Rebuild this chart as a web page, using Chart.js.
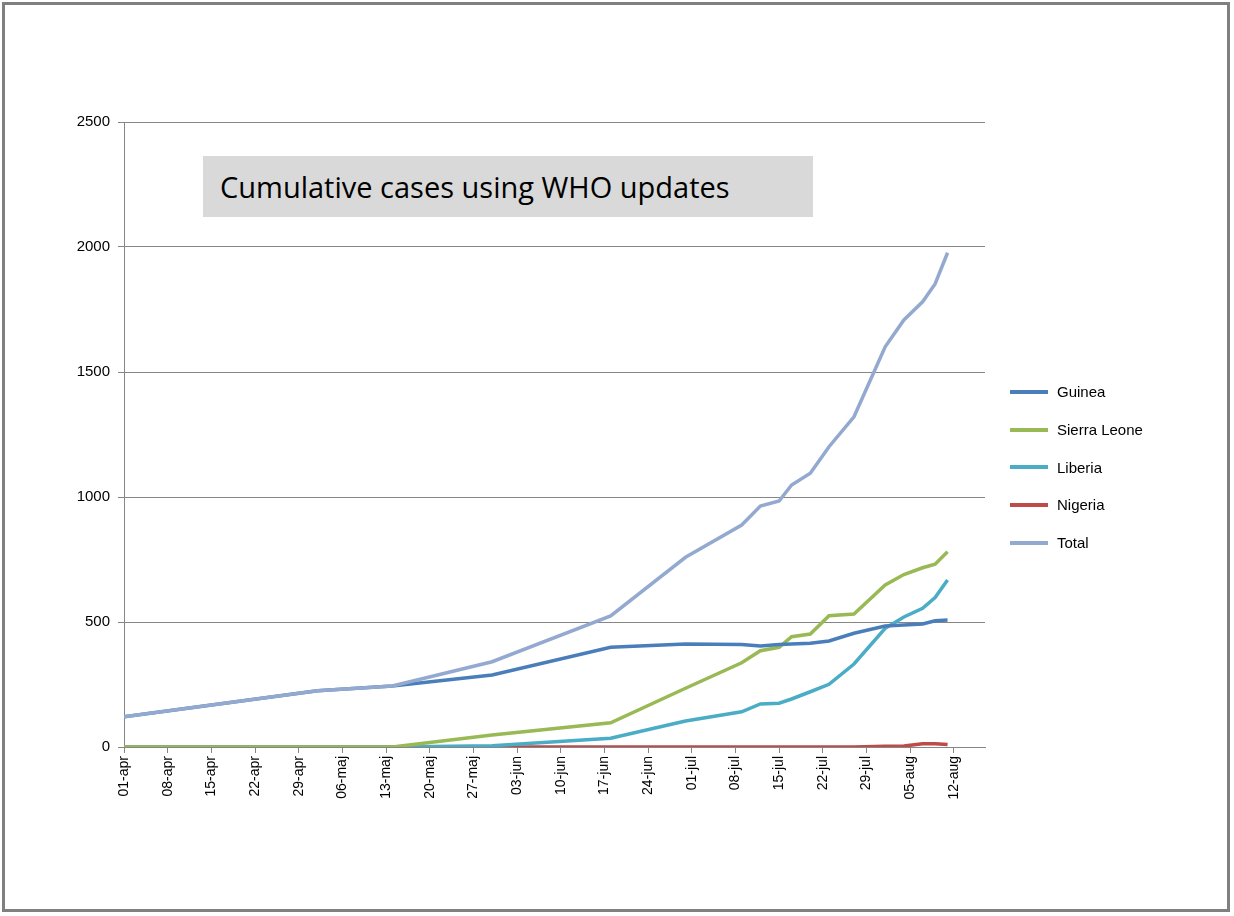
<!DOCTYPE html>
<html lang="en">
<head>
  <meta charset="UTF-8">
  <title>Cumulative cases</title>
  <script src="https://cdn.jsdelivr.net/npm/chart.js"></script>
  <style>
    body { margin: 0; background: #fff; font-family: "Liberation Sans", "DejaVu Sans", sans-serif; }
    #wrap { position: relative; width: 1234px; height: 916px; }
    #frame { position: absolute; left: 2px; top: 2px; width: 1228px; height: 910px; border: 3px solid #808080; box-sizing: border-box; }
    #title { position: absolute; left: 203px; top: 156px; width: 610px; height: 61px; background: #d9d9d9;
             font-family: "Open Sans", "Liberation Sans", sans-serif; font-size: 29px; line-height: 61px; padding-left: 17px; box-sizing: border-box; color: #000; }
    #legend { position: absolute; left: 1010px; top: 373px; font-size: 15px; }
    #legend div { height: 37.7px; display: flex; align-items: center; }
    #legend span.sw { display: inline-block; width: 38px; height: 4px; margin-right: 9px; }
  </style>
</head>
<body>
<div id="wrap">
  <canvas id="c" width="1234" height="916"></canvas>
  <div id="frame"></div>
  <div id="title">Cumulative cases using WHO updates</div>
  <div id="legend"></div>
</div>
<script>
  // days counted from 01-apr-2014
  const days = [0, 31, 43, 59, 78, 90, 99, 102, 105, 107, 110, 113, 117, 122, 125, 128, 130, 132];
  const guinea = [121, 225, 244, 288, 399, 412, 410, 404, 410, 412, 415, 424, 455, 484, 488, 492, 505, 508];
  const sierraLeone = [0, 0, 0, 48, 97, 235, 337, 385, 399, 441, 452, 525, 532, 648, 690, 717, 731, 781];
  const liberia = [0, 0, 0, 5, 35, 104, 141, 172, 175, 192, 221, 251, 332, 475, 520, 555, 598, 668];
  const nigeria = [0, 0, 0, 0, 0, 0, 0, 0, 0, 0, 0, 0, 0, 3, 4, 13, 13, 10];
  const total = [121, 225, 244, 341, 524, 759, 888, 964, 984, 1048, 1095, 1201, 1321, 1601, 1708, 1781, 1852, 1977];
  const yTicks = [0, 500, 1000, 1500, 2000, 2500];
  const months = ['jan','feb','mar','apr','maj','jun','jul','aug','sep','okt','nov','dec'];

  const series = [
    { label: 'Guinea', data: guinea, color: '#4A7EBB' },
    { label: 'Sierra Leone', data: sierraLeone, color: '#98B954' },
    { label: 'Liberia', data: liberia, color: '#4BACC6' },
    { label: 'Nigeria', data: nigeria, color: '#BE4B48' },
    { label: 'Total', data: total, color: '#93A9CF' }
  ];

  function dayLabel(d) {
    const dt = new Date(Date.UTC(2014, 3, 1 + d));
    return String(dt.getUTCDate()).padStart(2, '0') + '-' + months[dt.getUTCMonth()];
  }

  const legend = document.getElementById('legend');
  series.forEach(s => {
    const row = document.createElement('div');
    row.innerHTML = '<span class="sw" style="background:' + s.color + '"></span>' + s.label;
    legend.appendChild(row);
  });

  new Chart(document.getElementById('c'), {
    type: 'line',
    data: {
      datasets: series.map(s => ({
        label: s.label,
        data: s.data.map((v, i) => ({ x: days[i], y: v })),
        borderColor: s.color,
        borderWidth: 3.5,
        pointRadius: 0,
        tension: 0,
        order: s.label === 'Total' ? 0 : 1
      }))
    },
    options: {
      responsive: false,
      animation: false,
      layout: { padding: { top: 122, right: 249, left: 0, bottom: 0 } },
      plugins: { legend: { display: false }, tooltip: { enabled: false } },
      scales: {
        x: {
          type: 'linear', min: 0, max: 138,
          afterFit: s => { s.height = 169; },
          afterBuildTicks: s => { s.ticks = []; for (let d = 0; d <= 133; d += 7) s.ticks.push({ value: d }); },
          grid: { drawOnChartArea: false, color: '#868686', tickLength: 6 },
          border: { color: '#868686' },
          ticks: { minRotation: 90, maxRotation: 90, autoSkip: false, color: '#000',
                   font: { size: 14, family: 'Liberation Sans' }, callback: v => dayLabel(v) }
        },
        y: {
          min: 0, max: 2500,
          afterFit: s => { s.width = 124; },
          afterBuildTicks: s => { s.ticks = yTicks.map(v => ({ value: v })); },
          grid: { color: '#868686', tickLength: 6 },
          border: { color: '#868686' },
          ticks: { color: '#000', font: { size: 15, family: 'Liberation Sans' }, padding: 8, callback: v => String(v) }
        }
      }
    }
  });
</script>
</body>
</html>
